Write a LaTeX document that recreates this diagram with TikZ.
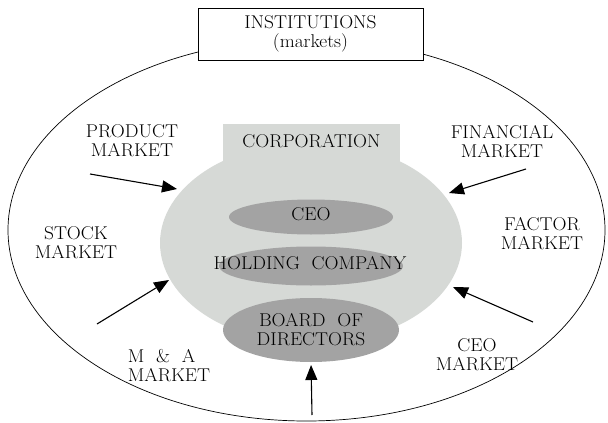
\documentclass[tikz,border=0pt]{standalone}
\usepackage{fontspec}
\setmainfont{Latin Modern Roman}[FakeStretch=1.05]
\usetikzlibrary{shapes.geometric,arrows.meta}
\definecolor{corpgray}{RGB}{214,217,214}
\definecolor{unitgray}{RGB}{163,163,163}
\begin{document}
\begin{tikzpicture}[x=1pt,y=-1pt,
  every node/.style={font=\fontsize{18.5}{19}\selectfont, inner sep=0pt, outer sep=0pt},
  mkt/.style={align=center},
  unit/.style={ellipse, fill=unitgray},
  arr/.style={line width=1.1pt, -{Triangle[length=15pt,width=12pt]}}]
  \useasboundingbox (0,0) rectangle (608,423);
  % outer ring of institutions
  \node[draw, line width=0.7pt, ellipse, minimum width=597pt, minimum height=382pt] (outer) at (306.5,230) {};
  \node[draw, line width=0.8pt, fill=white, minimum width=225pt, minimum height=52pt, align=center] (inst) at (310.5,34) {INSTITUTIONS\\(markets)};
  % the corporation
  \node[ellipse, fill=corpgray, minimum width=302pt, minimum height=202pt] (corp) at (311,243) {};
  \node[fill=corpgray, minimum width=177pt, minimum height=40pt, anchor=north] (tab) at (311.5,124) {};
  \node (corptext) at (311.5,141.5) {CORPORATION};
  \node[unit, minimum width=164pt, minimum height=35pt] (ceo) at (311,217) {};
  \node (ceotext) at (311,214.5) {CEO};
  \node[unit, minimum width=184pt, minimum height=39pt] (hold) at (311,266) {};
  \node (holdtext) at (310,263.5) {HOLDING\ \ COMPANY};
  \node[unit, minimum width=176pt, minimum height=64pt, align=center] (board) at (311,330) {BOARD\ \ OF\\DIRECTORS};
  % markets
  \node[mkt] (product) at (132,141) {PRODUCT\\MARKET};
  \node[mkt] (stock) at (76,242.5) {STOCK\\MARKET};
  \node[align=left] (ma) at (169,366) {M\ \ \&\ \ A\\MARKET};
  \node[mkt] (financial) at (502,142) {FINANCIAL\\MARKET};
  \node[mkt] (factor) at (542,234) {FACTOR\\MARKET};
  \node[mkt] (ceomkt) at (477,355) {CEO\\MARKET};
  % influences acting on the corporation
  \coordinate (pA) at (90,174);
  \coordinate (pB) at (177,189);
  \coordinate (sA) at (97,324);
  \coordinate (sB) at (169,280);
  \coordinate (fA) at (526,169);
  \coordinate (fB) at (449,193);
  \coordinate (cA) at (533,322);
  \coordinate (cB) at (453,287);
  \coordinate (bA) at (312,415);
  \draw[arr] (pA) -- (pB);
  \draw[arr] (sA) -- (sB);
  \draw[arr] (fA) -- (fB);
  \draw[arr] (cA) -- (cB);
  \draw[arr, shorten >=3pt] (bA) -- (board.south);
\end{tikzpicture}
\end{document}
